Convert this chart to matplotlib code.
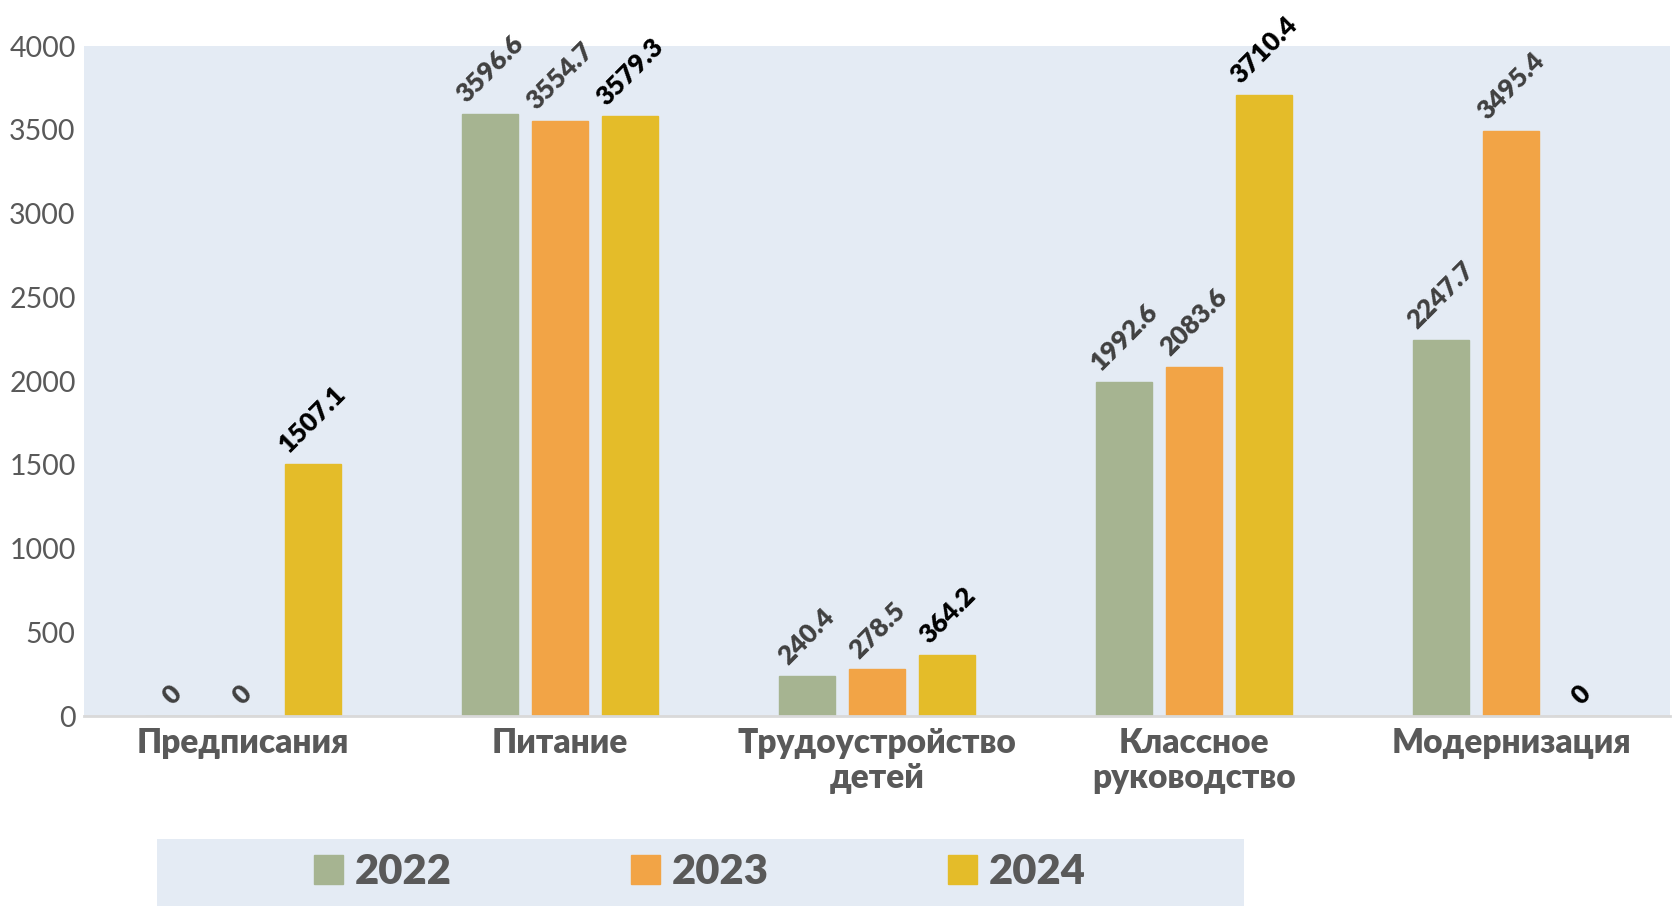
import numpy as np
import matplotlib
matplotlib.use("Agg")
import matplotlib.pyplot as plt
from matplotlib.patches import Rectangle

# data
categories = ["Предписания", "Питание", "Трудоустройство\nдетей", "Классное\nруководство", "Модернизация"]
years = ["2022", "2023", "2024"]
v2022 = [0, 3596.6, 240.4, 1992.6, 2247.7]
v2023 = [0, 3554.7, 278.5, 2083.6, 3495.4]
v2024 = [1507.1, 3579.3, 364.2, 3710.4, 0]
yticks = [0, 500, 1000, 1500, 2000, 2500, 3000, 3500, 4000]

colors = ["#A6B491", "#F2A446", "#E4BC29"]
label_colors = ["#404040", "#404040", "#000000"]
bg = "#E4EBF4"

plt.rcParams["font.family"] = ["Lato", "DejaVu Sans"]

fig = plt.figure(figsize=(16.73, 9.06), dpi=100)
ax = fig.add_axes([0.0502, 0.2097, 0.948, 0.7395])
ax.set_facecolor(bg)

x = np.arange(len(categories))
width = 0.176
step = 0.221

bars = []
for i, vals in enumerate([v2022, v2023, v2024]):
    pos = x + (i - 1) * step
    b = ax.bar(pos, vals, width, color=colors[i], edgecolor=colors[i], linewidth=1, label=years[i], zorder=2)
    bars.append(b)
    for px, v in zip(pos, vals):
        ax.annotate(f"{v:g}", (px, v), xytext=(0, 5), textcoords="offset points",
                    ha="center", va="bottom", rotation=45, fontsize=19,
                    fontweight="heavy", color=label_colors[i], zorder=3)

ax.set_xlim(-0.5, len(categories) - 0.5)
ax.set_ylim(0, 4000)
ax.set_yticks(yticks)
ax.set_xticks(x)
ax.set_xticklabels(categories, fontsize=24, fontweight="heavy", color="#595959", linespacing=1.1)
ax.tick_params(axis="y", length=0, pad=6, labelsize=20.5, labelcolor="#595959")
ax.tick_params(axis="x", length=0, pad=8)

for s in ["top", "right", "left"]:
    ax.spines[s].set_visible(False)
ax.spines["bottom"].set_color("#D9D9D9")
ax.spines["bottom"].set_linewidth(2)
ax.spines["bottom"].set_zorder(4)

# legend box
fig.patches.append(Rectangle((0.0938, 0.0), 0.650, 0.074, transform=fig.transFigure,
                             facecolor=bg, edgecolor="none", zorder=0))
leg = fig.legend(handles=bars, labels=years, loc="center", bbox_to_anchor=(0.4186, 0.0375),
                 ncol=3, frameon=False, fontsize=30, handlelength=0.68, handleheight=0.68,
                 handletextpad=0.3, columnspacing=4.3)
for t in leg.get_texts():
    t.set_color("#595959")
    t.set_fontweight("heavy")

fig.savefig("out.png", dpi=100)
